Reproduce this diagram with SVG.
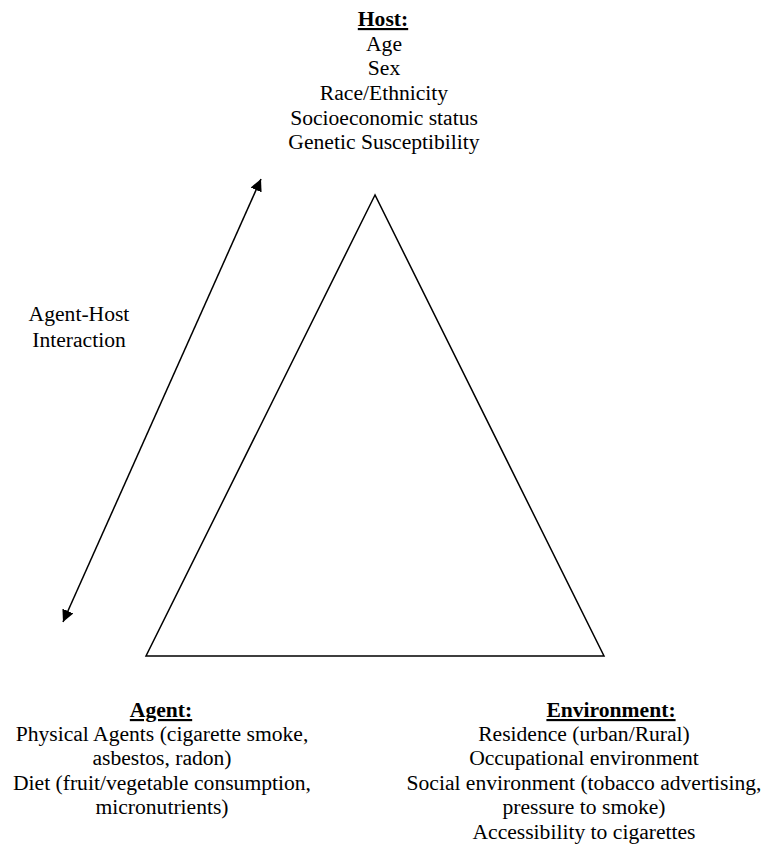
<svg xmlns="http://www.w3.org/2000/svg" width="773" height="850" viewBox="0 0 773 850">
<style>
text{font-family:"Liberation Serif","Times New Roman",serif;font-size:21.6px;fill:#000;text-anchor:middle}
.t{font-weight:bold;text-decoration:underline}
</style>
<defs>
<marker id="ah" viewBox="0 0 10 10" refX="10" refY="5" markerWidth="12" markerHeight="12" markerUnits="userSpaceOnUse" orient="auto-start-reverse">
<path d="M0,0L10,5L0,10z" fill="#000"/>
</marker>
</defs>
<rect width="773" height="850" fill="#fff"/>
<g id="triangle">
<polygon points="375,195 146,656 604,656" fill="none" stroke="#000" stroke-width="1.5"/>
</g>
<g id="connectors">
<line x1="63" y1="622" x2="261" y2="179" stroke="#000" stroke-width="1.5" marker-start="url(#ah)" marker-end="url(#ah)"/>
</g>
<g id="host">
<text class="t" x="383" y="26">Host:</text>
<text x="384" y="51">Age</text>
<text x="384" y="75">Sex</text>
<text x="384" y="100">Race/Ethnicity</text>
<text x="384" y="125">Socioeconomic status</text>
<text x="384" y="149">Genetic Susceptibility</text>
</g>
<g id="interaction">
<text x="79" y="321">Agent-Host</text>
<text x="79" y="347">Interaction</text>
</g>
<g id="agent">
<text class="t" x="161" y="717">Agent:</text>
<text x="162" y="741">Physical Agents (cigarette smoke,</text>
<text x="162" y="765">asbestos, radon)</text>
<text x="162" y="790">Diet (fruit/vegetable consumption,</text>
<text x="162" y="814">micronutrients)</text>
</g>
<g id="environment">
<text class="t" x="611" y="717">Environment:</text>
<text x="584" y="741">Residence (urban/Rural)</text>
<text x="584" y="765">Occupational environment</text>
<text x="584" y="790">Social environment (tobacco advertising,</text>
<text x="584" y="814">pressure to smoke)</text>
<text x="584" y="839">Accessibility to cigarettes</text>
</g>
</svg>
